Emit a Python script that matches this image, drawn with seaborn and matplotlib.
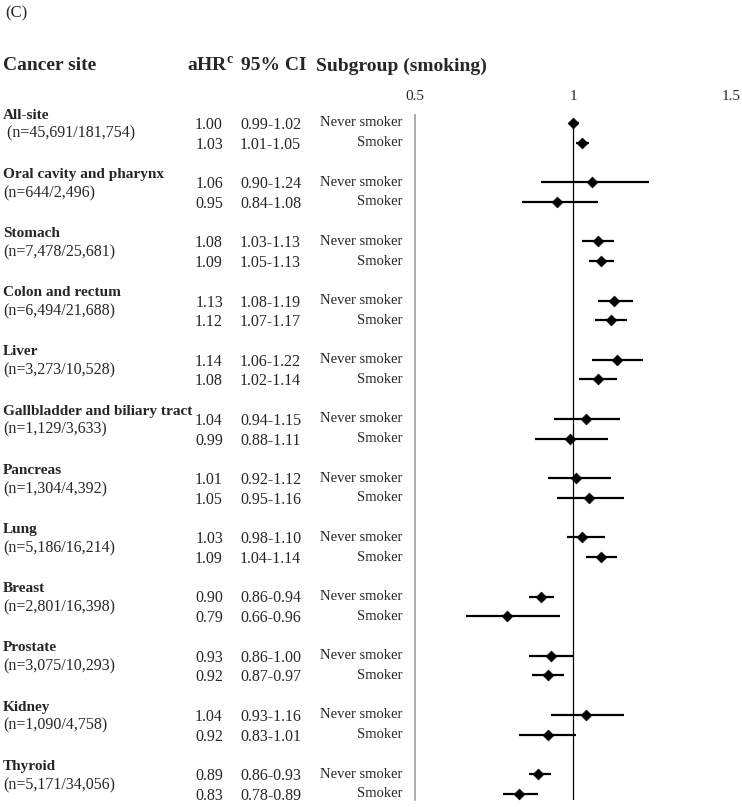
import matplotlib
matplotlib.use("Agg")
import matplotlib.pyplot as plt
import matplotlib.transforms as mtransforms
import pandas as pd
import seaborn as sns

# forest plot data
sites = ['All-site', 'Oral cavity and pharynx', 'Stomach', 'Colon and rectum', 'Liver',
         'Gallbladder and biliary tract', 'Pancreas', 'Lung', 'Breast', 'Prostate',
         'Kidney', 'Thyroid']
n_labels = [' (n=45,691/181,754)', '(n=644/2,496)', '(n=7,478/25,681)', '(n=6,494/21,688)',
            '(n=3,273/10,528)', '(n=1,129/3,633)', '(n=1,304/4,392)', '(n=5,186/16,214)',
            '(n=2,801/16,398)', '(n=3,075/10,293)', '(n=1,090/4,758)', '(n=5,171/34,056)']
never_hr = [1.00, 1.06, 1.08, 1.13, 1.14, 1.04, 1.01, 1.03, 0.90, 0.93, 1.04, 0.89]
never_lo = [0.99, 0.90, 1.03, 1.08, 1.06, 0.94, 0.92, 0.98, 0.86, 0.86, 0.93, 0.86]
never_hi = [1.02, 1.24, 1.13, 1.19, 1.22, 1.15, 1.12, 1.10, 0.94, 1.00, 1.16, 0.93]
smoker_hr = [1.03, 0.95, 1.09, 1.12, 1.08, 0.99, 1.05, 1.09, 0.79, 0.92, 0.92, 0.83]
smoker_lo = [1.01, 0.84, 1.05, 1.07, 1.02, 0.88, 0.95, 1.04, 0.66, 0.87, 0.83, 0.78]
smoker_hi = [1.05, 1.08, 1.13, 1.17, 1.14, 1.11, 1.16, 1.14, 0.96, 0.97, 1.01, 0.89]
subgroups = ['Never smoker', 'Smoker']
xticks = [0.5, 1, 1.5]
xtick_labels = ['0.5', '1', '1.5']

rows = []
for i, site in enumerate(sites):
    rows.append(dict(site=site, group='Never smoker', pos=3 * i,
                     hr=never_hr[i], lo=never_lo[i], hi=never_hi[i]))
    rows.append(dict(site=site, group='Smoker', pos=3 * i + 1,
                     hr=smoker_hr[i], lo=smoker_lo[i], hi=smoker_hi[i]))
df = pd.DataFrame(rows)

sns.set_style('white')
plt.rcParams['font.family'] = ['Liberation Serif', 'DejaVu Serif']

W, H = 742, 807
fig = plt.figure(figsize=(W / 100, H / 100), dpi=100)

# axes: x 0.5..1.5 spans px 415..731, y spans px 115..800
unit = 19.73
y_top, y_bot = 115, 800
ax = fig.add_axes([415 / W, 1 - y_bot / H, 316 / W, (y_bot - y_top) / H])
ax.set_xlim(0.5, 1.5)
ax.set_ylim((y_bot - 123) / unit, (y_top - 123) / unit)

ax.hlines(df['pos'], df['lo'], df['hi'], color='black', lw=1.6, zorder=2)
sns.scatterplot(data=df, x='hr', y='pos', marker='D', color='black', s=30,
                edgecolor='black', linewidth=0.5, ax=ax, zorder=3, legend=False)
ax.vlines(1, -0.25, (y_bot - 123) / unit, color='black', lw=0.9, zorder=1)

for side in ['top', 'right', 'bottom']:
    ax.spines[side].set_visible(False)
ax.spines['left'].set_color('#a6a6a6')
ax.spines['left'].set_linewidth(1.3)
ax.set_yticks([])
ax.set_xticks(xticks)
ax.set_xticklabels(xtick_labels)
ax.xaxis.tick_top()
ax.tick_params(axis='x', length=0, pad=9, labelsize=11)
ax.set_xlabel('')
ax.set_ylabel('')

# text columns: x in figure fraction, y in data rows
tr = mtransforms.blended_transform_factory(fig.transFigure, ax.transData)
for _, r in df.iterrows():
    ax.text(223 / W, r['pos'] + 0.1, f"{r['hr']:.2f}", transform=tr,
            ha='right', va='center', fontsize=11.5)
    ax.text(240 / W, r['pos'] + 0.1, f"{r['lo']:.2f}-{r['hi']:.2f}", transform=tr,
            ha='left', va='center', fontsize=11.5)
    ax.text(402 / W, r['pos'], r['group'], transform=tr,
            ha='right', va='center', fontsize=10.5)
for i, site in enumerate(sites):
    ax.text(3 / W, 3 * i - 0.4, site, transform=tr, ha='left', va='center',
            fontsize=11, fontweight='bold')
    ax.text(3 / W, 3 * i + 0.55, n_labels[i], transform=tr, ha='left', va='center',
            fontsize=11.5)

# headers
hy = 1 - 66 / H
fig.text(5 / W, 1 - 13 / H, '(C)', ha='left', va='center', fontsize=12)
fig.text(3 / W, hy, 'Cancer site', ha='left', va='center', fontsize=14, fontweight='bold')
fig.text(187 / W, hy, r'aHR$^{\mathregular{c}}$', ha='left', va='center',
         fontsize=14, fontweight='bold')
fig.text(241 / W, hy, '95% CI', ha='left', va='center', fontsize=14, fontweight='bold')
fig.text(316 / W, hy, 'Subgroup (smoking)', ha='left', va='center',
         fontsize=14, fontweight='bold')

fig.savefig('out.png', dpi=100)
